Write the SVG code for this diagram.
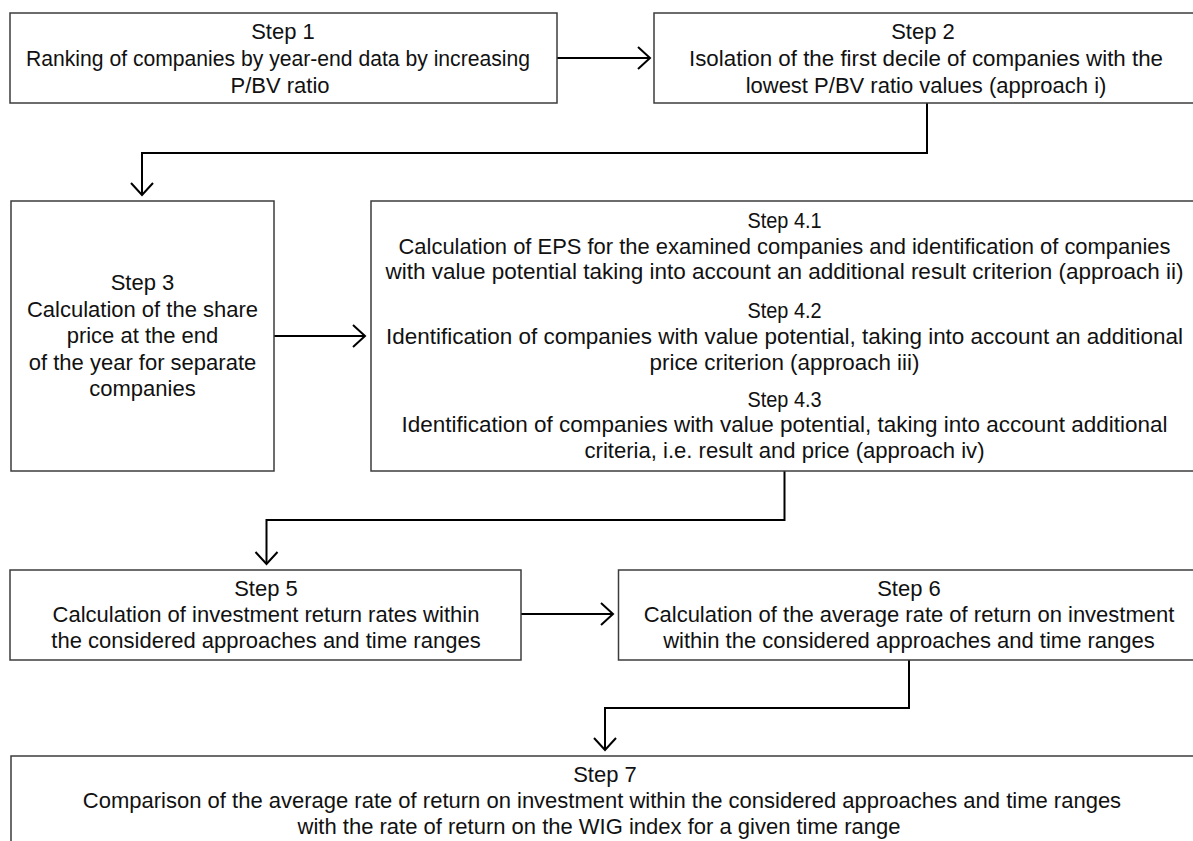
<svg xmlns="http://www.w3.org/2000/svg" width="1193" height="841" viewBox="0 0 1193 841">
<style>
.box{fill:#fff;stroke:#3c3c3c;stroke-width:1.5}
.t{font-family:"Liberation Sans",Arial,sans-serif;font-size:22px;fill:#111;text-anchor:middle}
.c{fill:none;stroke:#000;stroke-width:2}
</style>
<defs>
<marker id="ah" markerUnits="userSpaceOnUse" markerWidth="30" markerHeight="30" refX="15" refY="15" orient="auto" overflow="visible">
<path d="M3,4 L15,15 L3,26" fill="none" stroke="#000" stroke-width="2"/>
</marker>
</defs>
<rect width="1193" height="841" fill="#fff"/>
<g id="connectors">
<path class="c" d="M557,58 H650" marker-end="url(#ah)"/>
<path class="c" d="M927,103 V153 H142 V195" marker-end="url(#ah)"/>
<path class="c" d="M274,336 H365" marker-end="url(#ah)"/>
<path class="c" d="M784.5,471 V520 H266.5 V564" marker-end="url(#ah)"/>
<path class="c" d="M521,614 H613" marker-end="url(#ah)"/>
<path class="c" d="M909,660 V708 H605 V750" marker-end="url(#ah)"/>
</g>
<g id="step1">
<rect class="box" x="10" y="13" width="547" height="90"/>
<text class="t" x="283" y="39">Step 1</text>
<text class="t" x="278" y="66" textLength="504" lengthAdjust="spacingAndGlyphs">Ranking of companies by year-end data by increasing</text>
<text class="t" x="280" y="93">P/BV ratio</text>
</g>
<g id="step2">
<rect class="box" x="654" y="13" width="545" height="90"/>
<text class="t" x="923" y="39">Step 2</text>
<text class="t" x="926" y="66" textLength="474" lengthAdjust="spacingAndGlyphs">Isolation of the first decile of companies with the</text>
<text class="t" x="926" y="93">lowest P/BV ratio values (approach i)</text>
</g>
<g id="step3">
<rect class="box" x="11" y="201" width="263" height="270"/>
<text class="t" x="142.5" y="290">Step 3</text>
<text class="t" x="142.5" y="317">Calculation of the share</text>
<text class="t" x="142.5" y="343">price at the end</text>
<text class="t" x="142.5" y="370">of the year for separate</text>
<text class="t" x="142.5" y="396">companies</text>
</g>
<g id="step4">
<rect class="box" x="371" y="201" width="828" height="270"/>
<text class="t" x="784.5" y="228" textLength="74" lengthAdjust="spacingAndGlyphs">Step 4.1</text>
<text class="t" x="784.5" y="254" textLength="772" lengthAdjust="spacingAndGlyphs">Calculation of EPS for the examined companies and identification of companies</text>
<text class="t" x="784.5" y="279" textLength="798" lengthAdjust="spacingAndGlyphs">with value potential taking into account an additional result criterion (approach ii)</text>
<text class="t" x="784.5" y="318" textLength="74" lengthAdjust="spacingAndGlyphs">Step 4.2</text>
<text class="t" x="784.5" y="344" textLength="797" lengthAdjust="spacingAndGlyphs">Identification of companies with value potential, taking into account an additional</text>
<text class="t" x="784.5" y="370" textLength="270" lengthAdjust="spacingAndGlyphs">price criterion (approach iii)</text>
<text class="t" x="784.5" y="407" textLength="74" lengthAdjust="spacingAndGlyphs">Step 4.3</text>
<text class="t" x="784.5" y="432" textLength="766" lengthAdjust="spacingAndGlyphs">Identification of companies with value potential, taking into account additional</text>
<text class="t" x="784.5" y="458" textLength="400" lengthAdjust="spacingAndGlyphs">criteria, i.e. result and price (approach iv)</text>
</g>
<g id="step5">
<rect class="box" x="10" y="570" width="511" height="90"/>
<text class="t" x="266" y="596">Step 5</text>
<text class="t" x="266" y="622">Calculation of investment return rates within</text>
<text class="t" x="266" y="648">the considered approaches and time ranges</text>
</g>
<g id="step6">
<rect class="box" x="618.5" y="570" width="581" height="90"/>
<text class="t" x="909" y="596">Step 6</text>
<text class="t" x="909" y="622">Calculation of the average rate of return on investment</text>
<text class="t" x="909" y="648">within the considered approaches and time ranges</text>
</g>
<g id="step7">
<rect class="box" x="11" y="756" width="1190" height="100"/>
<text class="t" x="605" y="782">Step 7</text>
<text class="t" x="602" y="808">Comparison of the average rate of return on investment within the considered approaches and time ranges</text>
<text class="t" x="599" y="834">with the rate of return on the WIG index for a given time range</text>
</g>
</svg>
